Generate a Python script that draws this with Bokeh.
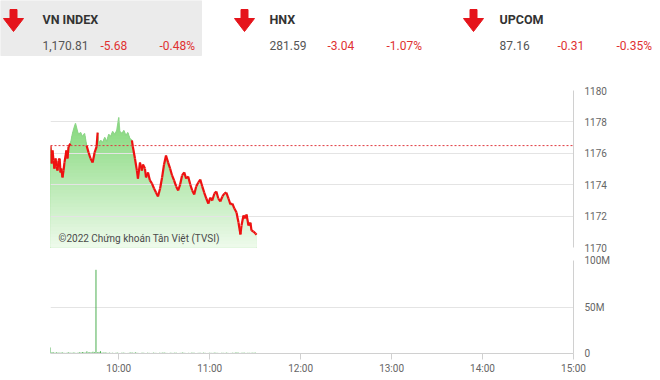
import numpy as np
from bokeh.plotting import figure
from bokeh.layouts import column
from bokeh.models import Range1d, FixedTicker, Label, Span
from bokeh.core.properties import value
from bokeh.embed import file_html
from bokeh.resources import INLINE

# ---------------- data ----------------
index_names = ["VN INDEX", "HNX", "UPCOM"]
index_values = ["1,170.81", "281.59", "87.16"]
index_changes = ["-5.68", "-3.04", "-0.31"]
index_pcts = ["-0.48%", "-1.07%", "-0.35%"]

reference = 1176.49

# minutes since midnight
price_time = [555.0, 555.7, 556.3, 557.0, 557.6, 558.3, 559.0, 559.6, 560.3, 561.0,
              561.6, 562.2, 562.9, 563.6, 564.2, 565.5, 566.2, 566.9, 568.2, 569.5,
              570.8, 571.5, 572.2, 572.8, 573.5, 574.8, 576.1, 577.5, 578.8, 580.1,
              581.4, 582.8, 584.1, 585.4, 586.1, 586.8, 588.1, 589.4, 590.8, 592.1,
              593.4, 594.7, 596.0, 597.4, 598.7, 600.0, 600.7, 602.0, 603.4, 604.7,
              606.0, 607.3, 608.7, 609.3, 610.7, 612.0, 612.7, 614.0, 615.3, 616.0,
              617.3, 618.0, 619.3, 620.6, 621.9, 623.3, 624.6, 625.9, 627.3, 628.6,
              629.9, 631.2, 632.6, 633.9, 635.2, 636.5, 637.9, 639.2, 640.5, 641.8,
              643.2, 644.5, 645.8, 647.2, 648.5, 649.8, 651.1, 652.5, 653.8, 655.1,
              656.4, 657.8, 659.1, 660.4, 661.7, 663.1, 664.4, 665.7, 667.0, 668.4,
              669.7, 671.0, 672.4, 673.7, 675.0, 676.3, 677.7, 679.0, 680.3, 681.0,
              682.3, 683.6, 684.3, 685.6, 686.9, 687.6, 688.9, 690.2, 690.9]
price_value = [1176.50, 1175.35, 1176.18, 1175.54, 1175.03, 1175.67, 1175.16, 1174.90, 1175.54, 1175.67,
               1174.78, 1175.03, 1174.46, 1174.90, 1175.41, 1176.18, 1175.67, 1176.43, 1176.62, 1177.26,
               1177.71, 1177.90, 1177.64, 1177.39, 1177.20, 1177.32, 1177.07, 1177.26, 1176.50, 1176.05,
               1175.67, 1175.41, 1176.05, 1176.43, 1177.32, 1176.62, 1176.82, 1176.69, 1177.01, 1176.75,
               1177.20, 1177.07, 1177.39, 1177.20, 1177.45, 1178.28, 1177.39, 1177.26, 1177.45, 1177.13,
               1177.32, 1176.94, 1176.82, 1176.43, 1175.67, 1174.90, 1174.39, 1175.41, 1174.90, 1175.29,
               1175.03, 1174.46, 1174.78, 1174.27, 1174.08, 1173.76, 1173.50, 1173.25, 1173.76, 1174.46,
               1175.29, 1175.86, 1175.41, 1175.03, 1174.59, 1174.27, 1173.89, 1173.63, 1174.01, 1174.59,
               1174.78, 1174.39, 1174.52, 1174.01, 1173.63, 1173.38, 1173.89, 1174.14, 1174.33, 1173.89,
               1173.50, 1173.12, 1172.80, 1173.18, 1172.99, 1173.44, 1173.57, 1173.12, 1172.93, 1173.25,
               1173.44, 1173.50, 1173.12, 1172.74, 1172.80, 1172.48, 1172.23, 1171.59, 1170.83, 1171.40,
               1172.04, 1171.85, 1172.10, 1171.40, 1171.59, 1171.08, 1171.02, 1170.89, 1170.81]

vol_time = list(range(555, 691))
vol_value = [6.5, 1.4, 1.1, 0.9, 1.2, 1.0, 0.8, 1.0, 1.1, 0.7,
             0.6, 0.9, 1.2, 0.8, 0.7, 1.0, 0.9, 0.6, 0.8, 1.3,
             1.0, 1.6, 1.2, 0.9, 2.3, 1.1, 1.5, 1.0, 1.9, 1.3,
             90.0, 1.2, 1.7, 2.5, 1.0, 0.9, 1.2, 0.8, 0.7, 0.9,
             0.6, 0.8, 0.5, 0.7, 1.0, 0.6, 0.4, 0.8, 0.9, 0.7,
             0.5, 0.6, 0.8, 1.1, 0.9, 0.7, 1.2, 0.8, 0.6, 0.5,
             0.7, 0.9, 0.6, 0.5, 0.8, 0.7, 0.4, 0.6, 0.9, 0.7,
             0.6, 0.5, 0.8, 0.7, 0.9, 1.0, 0.7, 0.6, 0.5, 0.8,
             0.7, 0.6, 0.9, 0.8, 0.5, 0.6, 0.7, 1.0, 0.8, 0.6,
             0.5, 0.7, 0.6, 0.8, 0.9, 0.7, 0.5, 0.6, 0.8, 0.7,
             0.6, 0.9, 0.7, 0.5, 0.6, 0.8, 0.7, 0.6, 0.9, 0.8,
             0.7, 0.6, 0.5, 0.8, 0.7, 0.6, 0.9, 0.7, 0.5, 0.6,
             0.8, 0.7, 0.9, 1.1, 0.8, 0.6, 0.7, 0.9, 0.8, 0.6,
             0.7, 0.8, 0.6, 0.9, 0.7, 1.0]

price_ticks = [1170, 1172, 1174, 1176, 1178, 1180]
vol_ticks = [0, 50, 100]
vol_tick_labels = ["0", "50M", "100M"]
time_ticks = [600, 660, 720, 780, 840, 900]
time_tick_labels = ["10:00", "11:00", "12:00", "13:00", "14:00", "15:00"]

watermark = "©2022 Chứng khoán Tân Việt (TVSI)"

FONT = "Roboto"
X_START, X_END = 555, 900

# ---------------- header ----------------
h = figure(width=660, height=62, x_range=Range1d(0, 660), y_range=Range1d(62, 0),
           output_backend="svg", toolbar_location=None, min_border=0,
           x_axis_location=None, y_axis_location=None)
h.frame_align = False
h.grid.visible = False
h.outline_line_color = None
h.background_fill_color = "white"
h.border_fill_color = "white"
h.quad(left=[0], right=[201], top=[0], bottom=[55], color="#ebebeb")

col_x = np.array([42, 269, 499])
arrow_cx = [13, 244, 473]
arrow_red = "#e5141b"
h.quad(left=[c - 3.5 for c in arrow_cx], right=[c + 3.5 for c in arrow_cx],
       top=[9] * 3, bottom=[20] * 3, color=arrow_red)
h.patches(xs=[[c - 10, c + 10, c] for c in arrow_cx], ys=[[18, 18, 31]] * 3, color=arrow_red)

h.text(x=col_x, y=[19] * 3, text=index_names, text_font=value(FONT), text_font_style="bold",
       text_font_size="12.5px", text_color="#333333", text_baseline="alphabetic")
h.text(x=col_x, y=[45] * 3, text=index_values, text_font=value(FONT),
       text_font_size="12px", text_color="#555555", text_baseline="alphabetic")
h.text(x=col_x + 58, y=[45] * 3, text=index_changes, text_font=value(FONT),
       text_font_size="12px", text_color="#e03131", text_baseline="alphabetic")
h.text(x=col_x + 117, y=[45] * 3, text=index_pcts, text_font=value(FONT),
       text_font_size="12px", text_color="#e03131", text_baseline="alphabetic")

# ---------------- price chart ----------------
p = figure(width=660, height=192, x_range=Range1d(X_START, X_END), y_range=Range1d(1170, 1180),
           x_axis_location=None, y_axis_location="right", output_backend="svg",
           toolbar_location=None, min_border_left=50, min_border_right=87,
           min_border_top=28, min_border_bottom=7)
p.outline_line_color = None
p.background_fill_color = "white"
p.border_fill_color = "white"
p.xgrid.visible = False
p.ygrid.grid_line_color = "#e4e4e4"
p.ygrid.ticker = FixedTicker(ticks=price_ticks)
p.yaxis.ticker = FixedTicker(ticks=price_ticks)
p.yaxis.axis_line_color = "#d0d0d0"
p.yaxis.major_tick_line_color = None
p.yaxis.minor_tick_line_color = None
p.yaxis.major_tick_out = 0
p.yaxis.major_tick_in = 0
p.yaxis.major_label_standoff = 11
p.yaxis.major_label_text_font = FONT
p.yaxis.major_label_text_font_size = "10px"
p.yaxis.major_label_text_color = "#666666"

t = np.array(price_time)
v = np.array(price_value)

# gradient fill under the line
levels = np.linspace(1178.4, 1170.0, 40)
top_rgb = np.array([130, 216, 120])
bot_rgb = np.array([240, 251, 238])
for i, lv in enumerate(levels):
    f = i / (len(levels) - 1)
    rgb = (top_rgb * (1 - f) + bot_rgb * f).astype(int)
    col = "#%02x%02x%02x" % tuple(rgb)
    r = p.varea(x=t, y1=np.full_like(v, 1170.0), y2=np.minimum(v, lv), fill_color=col)
    r.level = "image"

p.add_layout(Span(location=reference, dimension="width", line_color="#e0393e",
                  line_dash="2 2", line_width=1, level="glyph"))

below = (v[:-1] < reference) | (v[1:] < reference)
green_idx = np.where(~below)[0]
red_idx = np.where(below)[0]
p.segment(x0=t[:-1][green_idx], y0=v[:-1][green_idx], x1=t[1:][green_idx], y1=v[1:][green_idx],
          line_color="#8fd68a", line_width=1.2)
p.segment(x0=t[:-1][red_idx], y0=v[:-1][red_idx], x1=t[1:][red_idx], y1=v[1:][red_idx],
          line_color="#ee1111", line_width=2.2)

p.add_layout(Label(x=560.3, y=1170.2, text=watermark, text_font=FONT, text_font_size="10px",
                   text_color="#4a4a4a", text_baseline="bottom"))

# ---------------- volume chart ----------------
q = figure(width=660, height=126, x_range=p.x_range, y_range=Range1d(0, 100),
           y_axis_location="right", output_backend="svg", toolbar_location=None,
           min_border_left=50, min_border_right=87, min_border_top=6, min_border_bottom=27)
q.outline_line_color = None
q.background_fill_color = "white"
q.border_fill_color = "white"
q.xgrid.visible = False
q.ygrid.grid_line_color = "#e4e4e4"
q.ygrid.ticker = FixedTicker(ticks=vol_ticks)
q.yaxis.ticker = FixedTicker(ticks=vol_ticks)
q.yaxis.major_label_overrides = {k: s for k, s in zip(vol_ticks, vol_tick_labels)}
q.yaxis.axis_line_color = "#d0d0d0"
q.yaxis.major_tick_line_color = None
q.yaxis.minor_tick_line_color = None
q.yaxis.major_tick_out = 0
q.yaxis.major_tick_in = 0
q.yaxis.major_label_standoff = 11
q.xaxis.ticker = FixedTicker(ticks=time_ticks)
q.xaxis.major_label_overrides = {k: s for k, s in zip(time_ticks, time_tick_labels)}
q.xaxis.axis_line_color = "#d0d0d0"
q.xaxis.major_tick_line_color = "#d0d0d0"
q.xaxis.minor_tick_line_color = None
q.xaxis.major_tick_out = 6
q.xaxis.major_tick_in = 0
q.xaxis.major_label_standoff = 3
for ax in (q.xaxis, q.yaxis):
    ax.major_label_text_font = FONT
    ax.major_label_text_font_size = "10px"
    ax.major_label_text_color = "#666666"

q.segment(x0=vol_time, y0=[0] * len(vol_time), x1=vol_time, y1=vol_value,
          line_color="#4caf50", line_width=1)

layout = column(h, p, q, spacing=0)
open("out.html", "w").write(file_html(layout, INLINE))
